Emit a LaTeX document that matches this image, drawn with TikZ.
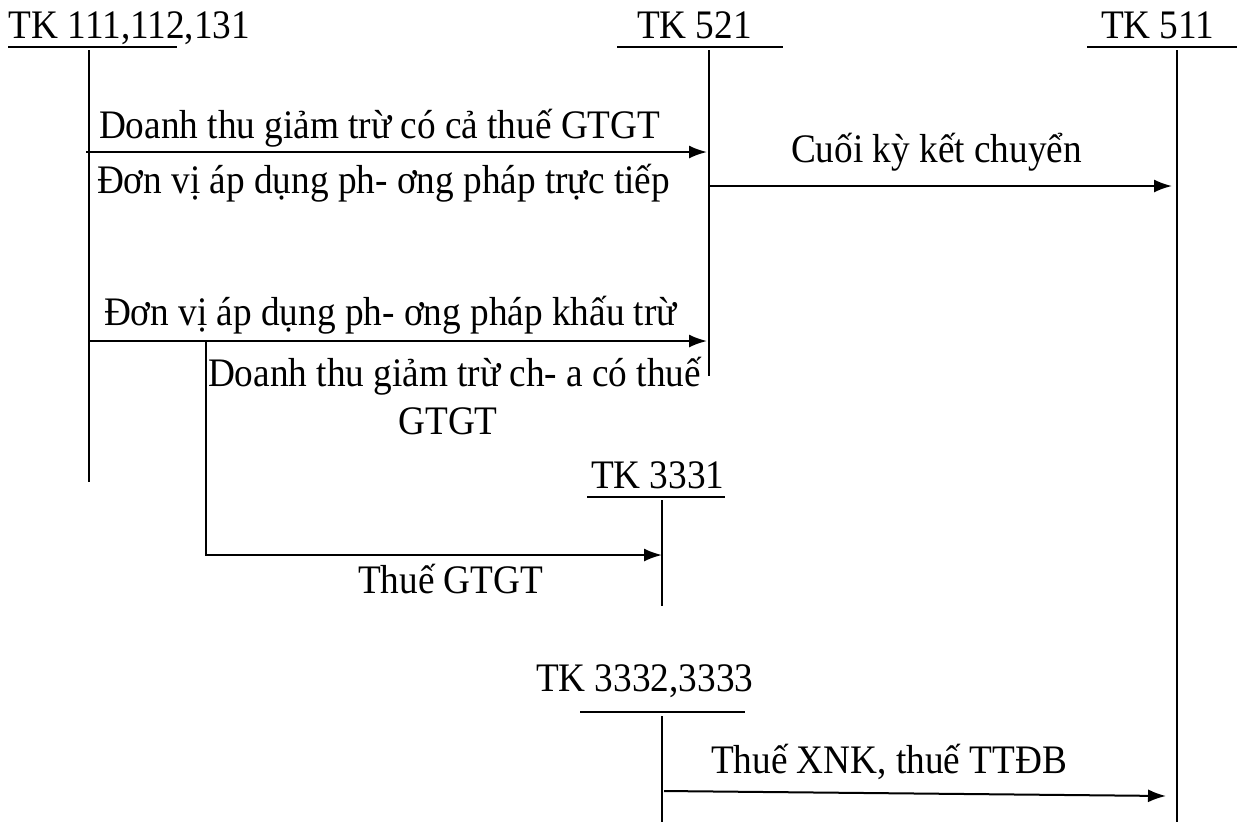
\documentclass[tikz,border=0pt]{standalone}
\usepackage{fontspec}
\setmainfont{Liberation Serif}[FakeStretch=0.92]
\usetikzlibrary{arrows.meta,positioning}

\begin{document}
\begin{tikzpicture}[x=1pt,y=-1pt,line width=2pt,>={Latex[length=18pt,width=13pt]},
   lbl/.style={font=\fontsize{40.5}{46}\selectfont,inner sep=0pt,anchor=base west},
   tline/.style={line width=1.8pt}]
  \useasboundingbox (0,0) rectangle (1239,822);
  % account headers
  \node[lbl] (h111) at (8,38) {TK 111,112,131};
  \node[lbl] (h521) at (636,38) {TK 521};
  \node[lbl] (h511) at (1100,38) {TK 511};
  \node[lbl] (h3331) at (590,488) {TK 3331};
  \node[lbl] (h3332) at (535,691) {TK 3332,3333};
  % T-account lines
  \draw[tline] (8,47) -- (177,47);
  \draw[tline] (617,47) -- (783,47);
  \draw[tline] (1087,47) -- (1237,47);
  \draw[tline] (587,497) -- (725,497);
  \draw[tline] (580,712) -- (745,712);
  \coordinate (a111) at (89,50);   \coordinate (a111e) at (89,482);
  \coordinate (a521) at (709,50);  \coordinate (a521e) at (709,376);
  \coordinate (a511) at (1177,50); \coordinate (a511e) at (1177,822);
  \coordinate (a3331) at (662,500); \coordinate (a3331e) at (662,606);
  \coordinate (a3332) at (662,716); \coordinate (a3332e) at (662,822);
  \foreach \a in {a111,a521,a511,a3331,a3332}
    \draw[tline] (\a) -- (\a e);
  % entries
  \coordinate (p1) at (86,152);  \coordinate (q1) at (707,152);
  \coordinate (p2) at (709,186); \coordinate (q2) at (1172,186);
  \coordinate (p3) at (89,341);  \coordinate (q3) at (707,341);
  \coordinate (p4) at (206,341); \coordinate (b4) at (206,555); \coordinate (q4) at (662,555);
  \coordinate (p5) at (664,791); \coordinate (q5) at (1166,796);
  \draw[->] (p1) -- (q1);
  \draw[->] (p2) -- (q2);
  \draw[->] (p3) -- (q3);
  \draw[->] (p4) -- (b4) -- (q4);
  \draw[->] (p5) -- (q5);
  % labels
  \node[lbl] (l1) at (98,138) {Doanh thu giảm trừ có cả thuế GTGT};
  \node[lbl] (l2) at (96,193) {Đơn vị áp dụng ph- ơng pháp trực tiếp};
  \node[lbl] (l3) at (790,162) {Cuối kỳ kết chuyển};
  \node[lbl] (l4) at (103,325) {Đơn vị áp dụng ph- ơng pháp khấu trừ};
  \node[lbl] (l5) at (207,386) {Doanh thu giảm trừ ch- a có thuế};
  \node[lbl,anchor=base] (l6) at (448,434) {GTGT};
  \node[lbl] (l7) at (357,593) {Thuế GTGT};
  \node[lbl] (l8) at (710,773) {Thuế XNK, thuế TTĐB};
\end{tikzpicture}
\end{document}
